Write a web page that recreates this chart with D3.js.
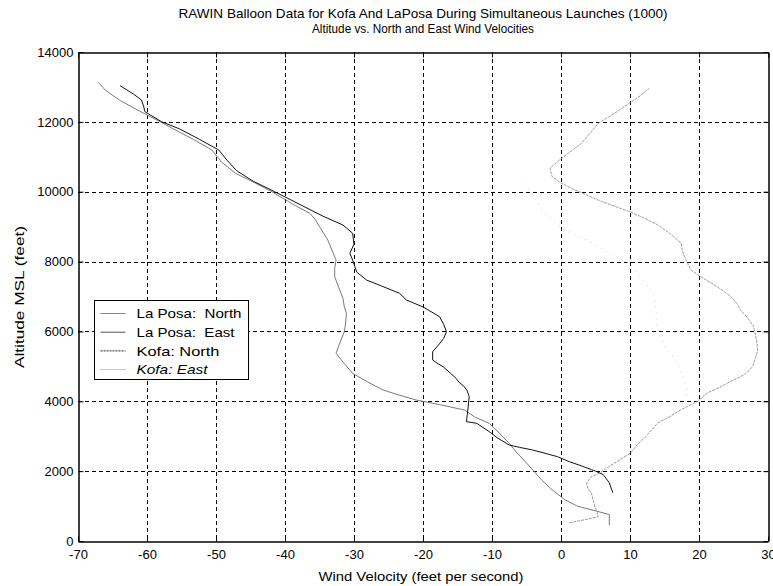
<!DOCTYPE html>
<html>
<head>
<meta charset="utf-8">
<script src="https://cdn.jsdelivr.net/npm/d3@7"></script>
<style>
  html, body { margin: 0; padding: 0; background: #fff; }
  svg { display: block; font-family: "Liberation Sans", Arial, sans-serif; }
</style>
</head>
<body>
<svg id="chart" width="773" height="586"></svg>
<script>
// Wind profiles: altitude (ft MSL) and wind velocity (ft/s), bottom to top
const laPosaNorthAlt = [450, 760, 996, 1187, 1268, 1500, 1750, 2032, 2300, 2550, 2796, 3100, 3369, 3550, 3751, 3900, 4037, 4180, 4323, 4550, 4800, 5100, 5373, 5700, 5993, 6250, 6519, 6700, 6949, 7250, 7568, 7800, 8045, 8330, 8618, 9000, 9200, 9382, 9600, 9811, 10001, 10260, 10528, 10850, 11194, 11500, 11800, 12005, 12300, 12600, 12900, 13121];
const laPosaNorthVel = [7.0, 7.0, 2.4, 0.5, 0.0, -1.5, -2.8, -4.1, -5.3, -6.5, -7.5, -9.0, -10.4, -12.5, -14.0, -17.5, -21.0, -23.5, -25.8, -28.0, -30.2, -31.5, -32.6, -32.0, -31.4, -31.2, -31.1, -31.4, -31.6, -32.2, -32.8, -32.8, -32.6, -33.2, -33.8, -35.0, -35.6, -36.4, -38.5, -40.3, -41.9, -44.4, -47.2, -49.2, -50.6, -53.3, -56.2, -58.1, -61.0, -63.8, -66.0, -67.0];

const laPosaEastAlt = [3565, 3756, 4185, 4328, 5043, 5500, 5900, 6234, 6615, 7044, 7423, 7949, 8045, 8236, 8426, 8666, 8952, 9250, 9497, 9900, 10245];
const laPosaEastVel = [15.5, 17.4, 18.1, 18.3, 17.1, 15.3, 14.2, 13.8, 13.8, 13.5, 12.1, 9.9, 8.7, 7.1, 5.4, 3.2, 0.1, -1.5, -2.8, -4.2, -5.2];

const kofaNorthAlt = [1384, 1670, 1903, 2000, 2045, 2176, 2271, 2414, 2510, 2605, 2680, 2748, 2950, 3130, 3250, 3369, 3416, 3600, 3751, 3950, 4132, 4300, 4418, 4550, 4657, 4800, 4991, 5100, 5182, 5420, 5600, 5800, 5993, 6200, 6423, 6700, 6900, 7091, 7300, 7473, 7700, 8045, 8237, 8500, 8810, 9046, 9300, 9600, 10001, 10300, 10600, 10900, 11194, 11500, 11800, 12005, 12290, 12450, 12626, 12800, 13035];
const kofaNorthVel = [7.5, 7.0, 6.1, 5.0, 4.4, 2.6, 1.2, -0.5, -2.3, -4.1, -6.0, -7.5, -9.2, -10.4, -11.3, -12.2, -13.7, -13.6, -13.5, -13.4, -13.3, -13.6, -14.0, -14.8, -15.2, -16.0, -17.1, -18.0, -18.6, -18.6, -17.8, -17.0, -16.6, -17.0, -17.6, -20.0, -22.4, -23.4, -26.0, -28.2, -29.6, -30.2, -30.6, -30.0, -30.2, -31.6, -34.5, -37.5, -41.5, -44.6, -47.0, -48.4, -49.6, -52.4, -55.3, -57.9, -60.3, -60.5, -60.8, -62.0, -63.9];

const kofaEastAlt = [520, 600, 693, 850, 996, 1139, 1370, 1500, 1656, 1847, 1942, 2045, 2283, 2521, 2750, 2951, 3150, 3380, 3560, 3761, 3999, 4239, 4400, 4571, 4700, 4810, 5000, 5191, 5450, 5668, 5900, 6144, 6400, 6621, 6800, 7002, 7300, 7574, 7765, 8051, 8300, 8529, 8800, 9052, 9250, 9433, 9719, 9900, 10054, 10245, 10434, 10674, 10960, 11180, 11389, 11700, 11961, 12250, 12532, 12750, 12962];
const kofaEastVel = [1.2, 3.2, 5.4, 5.2, 4.9, 4.7, 4.4, 3.9, 3.7, 4.4, 5.6, 6.3, 8.2, 10.1, 11.0, 12.1, 13.0, 14.0, 15.8, 17.4, 19.8, 21.2, 23.0, 24.6, 26.0, 26.9, 27.8, 28.1, 28.5, 28.4, 28.2, 27.9, 27.0, 26.0, 25.5, 24.6, 22.5, 20.2, 18.8, 18.1, 17.6, 17.4, 15.8, 14.0, 12.0, 9.9, 5.9, 3.8, 2.0, 0.0, -1.3, -1.6, 0.1, 1.6, 3.0, 4.3, 5.4, 7.8, 9.9, 11.5, 12.8];

const seriesNames = ["La Posa:  North", "La Posa:  East", "Kofa: North", "Kofa: East"];
const xTicks = [-70, -60, -50, -40, -30, -20, -10, 0, 10, 20, 30];
const yTicks = [0, 2000, 4000, 6000, 8000, 10000, 12000, 14000];

const titleLines = ["RAWIN Balloon Data for Kofa And LaPosa During Simultaneous Launches (1000)",
                    "Altitude vs. North and East Wind Velocities"];
const xLabel = "Wind Velocity (feet per second)";
const yLabel = "Altitude MSL (feet)";

// Rendering styles per series
const zip = (alt, vel) => alt.map((a, i) => ({ alt: a, vel: vel[i] }));
const series = [
  { name: seriesNames[0], pts: zip(laPosaNorthAlt, laPosaNorthVel), stroke: "#7a7a7a", dash: null, legendStroke: "#8a8a8a", legendDash: null, italic: false, textLen: 105 },
  { name: seriesNames[1], pts: zip(laPosaEastAlt, laPosaEastVel), stroke: "#cfcfcf", dash: "1,5", legendStroke: "#555", legendDash: null, italic: false, textLen: 98 },
  { name: seriesNames[2], pts: zip(kofaNorthAlt, kofaNorthVel), stroke: "#111", dash: null, legendStroke: "#222", legendDash: "2,1", italic: false, textLen: 83 },
  { name: seriesNames[3], pts: zip(kofaEastAlt, kofaEastVel), stroke: "#9c9c9c", dash: "3,1", legendStroke: "#888", legendDash: "1,1", italic: true, textLen: 71 }
];

const svg = d3.select("#chart");
const plotLeft = 78, plotRight = 768, plotTop = 52, plotBottom = 541;

const x = d3.scaleLinear().domain([-70, 30]).range([plotLeft, plotRight]);
const y = d3.scaleLinear().domain([0, 14000]).range([plotBottom, plotTop]);

// Dashed grid
const grid = svg.append("g").attr("stroke", "#000").attr("stroke-width", 1).attr("stroke-dasharray", "4,3");
grid.selectAll("line.gx").data(xTicks.slice(1, -1)).join("line").attr("class", "gx")
  .attr("x1", d => Math.round(x(d)) + 0.5).attr("x2", d => Math.round(x(d)) + 0.5)
  .attr("y1", plotTop).attr("y2", plotBottom);
grid.selectAll("line.gy").data(yTicks.slice(1, -1)).join("line").attr("class", "gy")
  .attr("y1", d => Math.round(y(d)) + 0.5).attr("y2", d => Math.round(y(d)) + 0.5)
  .attr("x1", plotLeft).attr("x2", plotRight);

// Profiles
const line = d3.line().x(d => x(d.vel)).y(d => y(d.alt));
svg.append("g").selectAll("path").data(series).join("path")
  .attr("fill", "none")
  .attr("stroke", d => d.stroke)
  .attr("stroke-width", 1)
  .attr("stroke-dasharray", d => d.dash)
  .attr("d", d => line(d.pts));

// Axes (inward ticks, boxed frame)
const fmt = d => String(d);
const axB = d3.axisBottom(x).tickValues(xTicks).tickSizeInner(-5).tickSizeOuter(0).tickPadding(8).tickFormat(fmt);
const axL = d3.axisLeft(y).tickValues(yTicks).tickSizeInner(-5).tickSizeOuter(0).tickPadding(5).tickFormat(fmt);
const axT = d3.axisTop(x).tickValues(xTicks).tickSizeInner(-5).tickSizeOuter(0).tickFormat("");
const axR = d3.axisRight(y).tickValues(yTicks).tickSizeInner(-5).tickSizeOuter(0).tickFormat("");

svg.append("g").attr("transform", `translate(0,${plotBottom + 0.5})`).call(axB);
svg.append("g").attr("transform", `translate(${plotLeft + 0.5},0)`).call(axL);
svg.append("g").attr("transform", `translate(0,${plotTop + 0.5})`).call(axT);
svg.append("g").attr("transform", `translate(${plotRight + 0.5},0)`).call(axR);

svg.selectAll(".domain").attr("stroke", "#000").attr("stroke-width", 1.5);
svg.selectAll(".tick line").attr("stroke", "#000");
svg.selectAll(".tick text").attr("fill", "#000").attr("font-size", 13)
  .attr("font-family", "'Liberation Sans', Arial, sans-serif");

// Titles and axis labels
const titleLen = [489, 222];
const titleSize = [13, 12.5];
svg.append("g").selectAll("text").data(titleLines).join("text")
  .attr("x", (plotLeft + plotRight) / 2).attr("y", (d, i) => 18 + i * 15)
  .attr("text-anchor", "middle").attr("font-size", (d, i) => titleSize[i]).attr("fill", "#000")
  .attr("textLength", (d, i) => titleLen[i]).attr("lengthAdjust", "spacingAndGlyphs")
  .text(d => d);

svg.append("text").attr("x", 421).attr("y", 581)
  .attr("text-anchor", "middle").attr("font-size", 13).attr("fill", "#000")
  .attr("textLength", 205).attr("lengthAdjust", "spacingAndGlyphs").text(xLabel);

svg.append("text").attr("transform", `translate(24,297) rotate(-90)`)
  .attr("text-anchor", "middle").attr("font-size", 13).attr("fill", "#000")
  .attr("textLength", 142).attr("lengthAdjust", "spacingAndGlyphs").text(yLabel);

// Legend
const lg = svg.append("g").attr("transform", "translate(94.5,300.5)");
lg.append("rect").attr("width", 154).attr("height", 79).attr("fill", "#fff").attr("stroke", "#000").attr("stroke-width", 1);
const rows = lg.selectAll("g.row").data(series).join("g").attr("class", "row")
  .attr("transform", (d, i) => `translate(0,${13 + i * 18.7})`);
rows.append("line").attr("x1", 6).attr("x2", 31).attr("y1", 0).attr("y2", 0)
  .attr("stroke", d => d.legendStroke).attr("stroke-width", 1).attr("stroke-dasharray", d => d.legendDash);
rows.append("text").attr("x", 42).attr("y", 0).attr("dy", "0.36em")
  .style("white-space", "pre")
  .attr("font-size", 13).attr("fill", "#000")
  .attr("font-style", d => d.italic ? "italic" : "normal")
  .attr("textLength", d => d.textLen).attr("lengthAdjust", "spacingAndGlyphs")
  .text(d => d.name);
</script>
</body>
</html>
